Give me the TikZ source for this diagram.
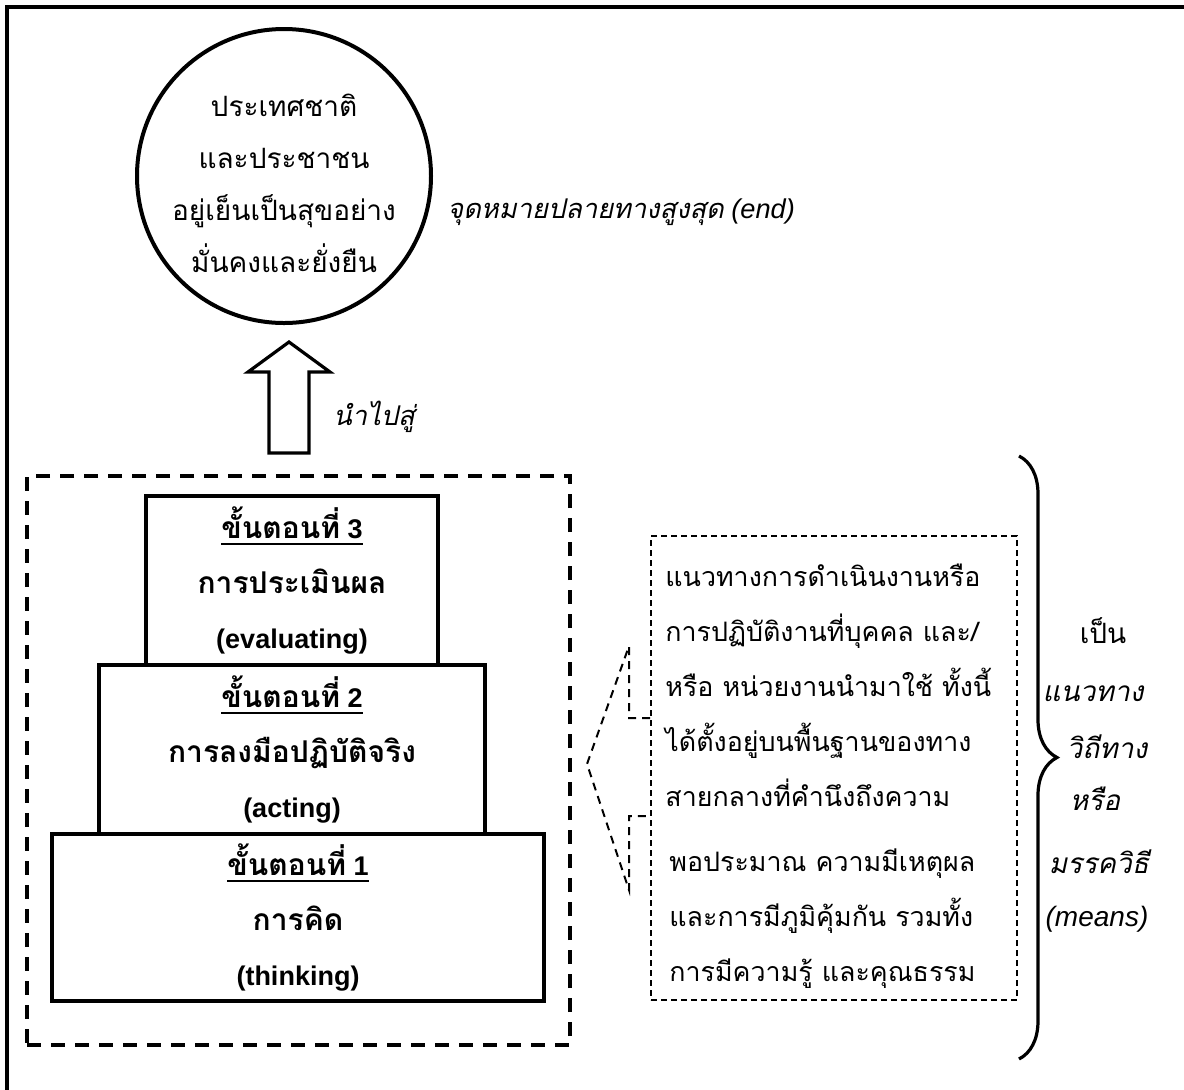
\documentclass[tikz,border=0pt]{standalone}
\usepackage{fontspec}
\setmainfont{Liberation Sans}
\newfontfamily\thaifont[Script=Thai]{Loma}
\usetikzlibrary{decorations.pathreplacing, positioning}

\begin{document}
\begin{tikzpicture}[x=0.5pt, y=-0.5pt]


% GLOBAL SETTINGS
\newcommand{\thai}[1]{{\thaifont #1}}
\newcommand{\thaibig}[1]{{\thaifont\fontsize{15}{27.5}\selectfont #1}}
\newsavebox{\headbox}
\newcommand{\stagehead}[1]{\sbox{\headbox}{\thaibig{ขั้นตอนที่} #1}%
  \rlap{\rule[-3pt]{\wd\headbox}{1pt}}\usebox{\headbox}}
\tikzset{
  frame/.style={draw, line width=2pt},
  goal/.style={draw, circle, line width=2pt, minimum size=147pt, inner sep=0pt},
  goaltext/.style={align=center, inner sep=0pt, font=\thaifont\fontsize{14}{26}\selectfont},
  stage/.style={draw, line width=2pt, align=center, inner sep=0pt, fill=white,
    font=\bfseries\fontsize{13.5}{27.5}\selectfont},
  groupbox/.style={draw, line width=2pt, dash pattern=on 7pt off 5pt, inner sep=0pt},
  meansbox/.style={draw, line width=1pt, dash pattern=on 3pt off 2pt, inner sep=0pt},
  linkdash/.style={line width=1pt, dash pattern=on 4pt off 3pt},
  bigarrow/.style={draw, line width=1.6pt, line join=miter},
  bracestyle/.style={line width=1.6pt, decorate, decoration={brace, amplitude=19pt, aspect=0.5}},
  lbl/.style={font=\itshape\fontsize{13.6}{16}\selectfont, inner sep=0pt},
  side/.style={font=\thaifont\fontsize{14}{16}\selectfont, inner sep=0pt},
}

% SHARED CODE
\useasboundingbox (0,0) rectangle (1184,1089);
\draw[frame] (7,7) rectangle (1190,1100);

% GOAL
\node[goal] (goal) at (284,176) {};
\node[goaltext] (goaltxt) at (284,183) {ประเทศชาติ\\ และประชาชน\\ อยู่เย็นเป็นสุขอย่าง\\ มั่นคงและยั่งยืน};
\node[lbl, anchor=west] (endlbl) at (447,212) {\thai{จุดหมายปลายทางสูงสุด} (end)};

% STAGES
\node[groupbox, minimum width=271.5pt, minimum height=284.5pt] (steps) at (298.5,760.5) {};
\foreach \k/\cx/\cy/\w/\h/\thname/\enname in {
  1/298/917.5/246/83.5/การคิด/thinking,
  2/292/749.5/193/84.5/การลงมือปฏิบัติจริง/acting,
  3/292/580.5/146/84.5/การประเมินผล/evaluating} {
  \node[stage, minimum width=\w pt, minimum height=\h pt] (S\k) at (\cx,\cy)
    {\stagehead{\k}\\ \thaibig{\thname}\\ (\enname)};
}

% ARROW
\coordinate (arrbase) at (289,453);
\draw[bigarrow] (arrbase) ++(-20,0) -- ++(0,-81) -- ++(-21,0) -- ++(41,-30)
  -- ++(41,30) -- ++(-21,0) -- ++(0,81) -- cycle;
\node[lbl, anchor=west] (lead) at (333,417) {\thai{นำไปสู่}};

% MEANS
\node[meansbox, minimum width=183pt, minimum height=232pt] (means) at (834,768) {};
\node[anchor=west, align=left, inner sep=0pt, font=\thaifont\fontsize{13.4}{27.5}\selectfont]
  (meanstxt) at (665,776) {แนวทางการดำเนินงานหรือ\\ การปฏิบัติงานที่บุคคล และ/\\
  หรือ หน่วยงานนำมาใช้ ทั้งนี้\\ ได้ตั้งอยู่บนพื้นฐานของทาง\\ สายกลางที่คำนึงถึงความ\\[5pt]
  \hspace{2pt}พอประมาณ ความมีเหตุผล\\ \hspace{2pt}และการมีภูมิคุ้มกัน รวมทั้ง\\
  \hspace{2pt}การมีความรู้ และคุณธรรม};

% helper coordinates
\path (means.west) ++(0,-50) coordinate (upA) ++(-21,-72) coordinate (upB);
\path (means.west) ++(0,48) coordinate (loA) ++(-21,74) coordinate (loB);
\path (means.west) ++(-63,-4) coordinate (chev);
\path (means.north east) ++(1,-79) coordinate (brtop);
\path (means.south east) ++(1,58) coordinate (brbot);

% EDGES & BRACE
\draw[linkdash] (upA) -| (upB) -- (chev) -- (loB) |- (loA);
\draw[bracestyle] (brtop) -- (brbot);
\foreach \txt/\xx/\yy [count=\k] in {
  {เป็น}/1103/631, {\itshape แนวทาง}/1093/694, {\itshape วิถีทาง}/1107/747,
  {\itshape หรือ}/1095/799, {\itshape มรรควิธี}/1099/862, {\normalfont\itshape (means)}/1097/919} {
  \node[side] (M\k) at (\xx,\yy) {\txt};
}

\end{tikzpicture}
\end{document}
